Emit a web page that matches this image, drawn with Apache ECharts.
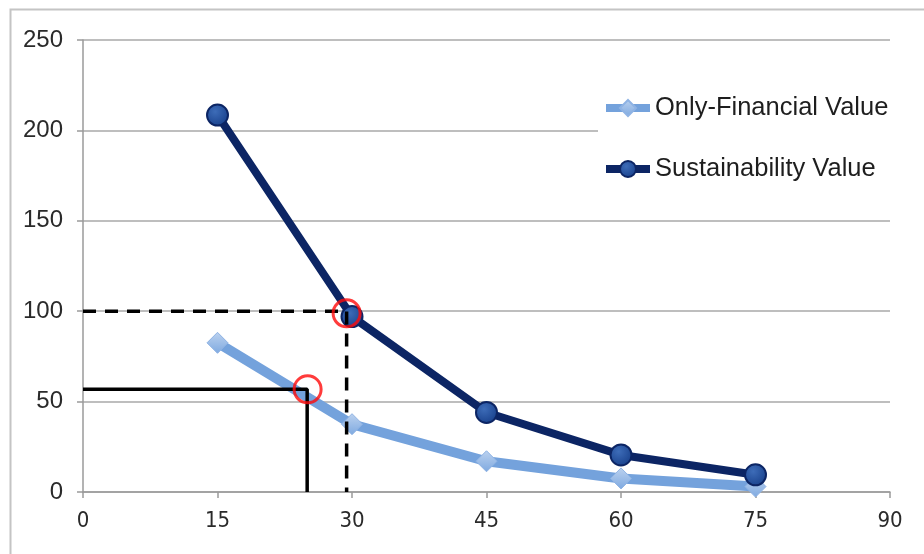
<!DOCTYPE html>
<html>
<head>
<meta charset="utf-8">
<style>
  html, body { margin: 0; padding: 0; background: #ffffff; }
  #chart { width: 924px; height: 554px; }
</style>
<script src="https://cdn.jsdelivr.net/npm/echarts@6/dist/echarts.min.js"></script>
</head>
<body>
<div id="chart"></div>
<script>
// Holding period values (x) for both series
const periods = [15, 30, 45, 60, 75];
const onlyFinancial = [82.5, 37.5, 17, 7.5, 3];
const sustainability = [208.5, 97, 44, 20.5, 9.5];

// Reading guides: dashed for the sustainability case, solid for the financial case
const dashedGuide = [[0, 100], [29.4, 100], [29.4, 0]];
const solidGuide = [[0, 56.8], [25, 56.8], [25, 0]];
const highlightPoints = [[29.4, 98.8], [25.05, 56.8]];

const xTicks = { min: 0, max: 90, interval: 15 };
const yTicks = { min: 0, max: 250, interval: 50 };

const pair = (xs, ys) => xs.map((x, i) => [x, ys[i]]);

const chart = echarts.init(document.getElementById('chart'), null, { renderer: 'canvas' });

chart.setOption({
  backgroundColor: '#ffffff',
  animation: false,
  graphic: [{
    type: 'rect',
    left: 8, top: 7,
    shape: { width: 940, height: 570 },
    style: { fill: 'none', stroke: '#c4c4c4', lineWidth: 2 },
    z: -10
  }],
  grid: { left: 83, right: 34, top: 40, bottom: 62, containLabel: false },
  legend: {
    orient: 'vertical',
    left: 598, top: 85,
    backgroundColor: '#ffffff',
    padding: [10, 4, 10, 4],
    itemWidth: 44, itemHeight: 20, itemGap: 35,
    lineStyle: { width: 8 },
    textStyle: { fontFamily: 'Liberation Sans, Arial, sans-serif', fontSize: 25.5, color: '#1e1e1e', lineHeight: 20 },
    data: ['Only-Financial Value', 'Sustainability Value']
  },
  xAxis: {
    type: 'value',
    min: xTicks.min, max: xTicks.max, interval: xTicks.interval,
    axisLine: { show: true, lineStyle: { color: '#9a9a9a', width: 1.5 } },
    axisTick: { show: true, length: 6, lineStyle: { color: '#9a9a9a', width: 1.5 } },
    axisLabel: { margin: 18, fontFamily: 'Liberation Sans Narrow, DejaVu Sans Condensed, Arial Narrow, sans-serif', fontSize: 22, color: '#2a2a2a' },
    splitLine: { show: false }
  },
  yAxis: {
    type: 'value',
    min: yTicks.min, max: yTicks.max, interval: yTicks.interval,
    axisLine: { show: true, lineStyle: { color: '#9a9a9a', width: 1.5 } },
    axisTick: { show: true, length: 6, lineStyle: { color: '#9a9a9a', width: 1.5 } },
    axisLabel: { margin: 20, fontFamily: 'Liberation Sans, Arial, sans-serif', fontSize: 24, color: '#2a2a2a' },
    splitLine: { show: true, lineStyle: { color: '#a8a8a8', width: 1.5 } }
  },
  series: [
    {
      name: 'Only-Financial Value',
      type: 'line',
      data: pair(periods, onlyFinancial),
      symbol: 'diamond',
      symbolSize: 21,
      lineStyle: { color: '#74a2dc', width: 10 },
      itemStyle: {
        color: new echarts.graphic.LinearGradient(0, 0, 0, 1, [
          { offset: 0, color: '#bcd2ef' },
          { offset: 1, color: '#7ea9e0' }
        ]),
        borderColor: '#8fb3e4', borderWidth: 1
      },
      z: 3
    },
    {
      name: 'Sustainability Value',
      type: 'line',
      data: pair(periods, sustainability),
      symbol: 'circle',
      symbolSize: 21,
      lineStyle: { color: '#0c2564', width: 8 },
      itemStyle: {
        color: new echarts.graphic.RadialGradient(0.4, 0.35, 0.7, [
          { offset: 0, color: '#3d6cb8' },
          { offset: 1, color: '#173f8a' }
        ]),
        borderColor: '#0c2564', borderWidth: 2
      },
      z: 4
    },
    {
      name: 'dashedGuide',
      type: 'line',
      data: dashedGuide,
      symbol: 'none',
      silent: true,
      lineStyle: { color: '#000000', width: 3.5, type: [13, 9] },
      z: 5
    },
    {
      name: 'solidGuide',
      type: 'line',
      data: solidGuide,
      symbol: 'none',
      silent: true,
      lineStyle: { color: '#000000', width: 3.5 },
      z: 5
    },
    {
      name: 'highlight',
      type: 'scatter',
      data: highlightPoints,
      symbol: 'circle',
      symbolSize: 27,
      silent: true,
      itemStyle: { color: 'rgba(0,0,0,0)', borderColor: '#ff0a0a', borderWidth: 3 },
      z: 6
    }
  ]
});
</script>
</body>
</html>
